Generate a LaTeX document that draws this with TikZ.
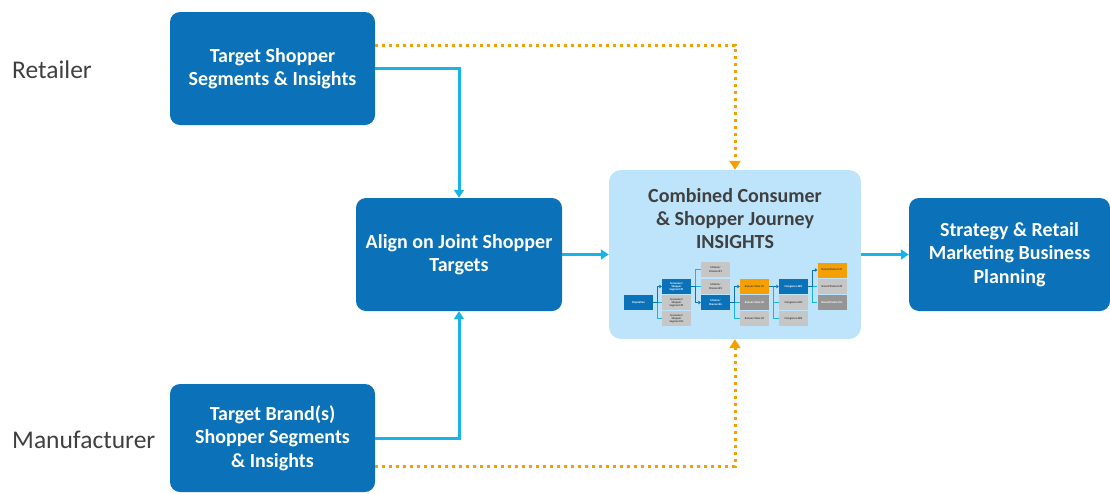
\documentclass[tikz,border=0pt]{standalone}
\usepackage{fontspec}
\setmainfont{Carlito}
\usetikzlibrary{arrows.meta}
\definecolor{dblue}{HTML}{0B72B9}
\definecolor{lblue}{HTML}{16B4E8}
\definecolor{pale}{HTML}{BDE4FA}
\definecolor{orng}{HTML}{F5A000}
\definecolor{lgrey}{HTML}{C6C6C6}
\definecolor{dgrey}{HTML}{959595}
\definecolor{txt}{HTML}{404040}
\tikzset{
  bigbox/.style={fill=dblue, rounded corners=10pt, text=white, inner sep=0pt,
    font=\fontsize{20}{23.5}\selectfont\bfseries, align=center},
  sidelabel/.style={anchor=base west, text=txt, inner sep=0pt, font=\fontsize{25.5}{28}\selectfont},
  conn/.style={draw=lblue, line width=3pt, -{Triangle[length=8pt,width=10pt]}},
  dotconn/.style={draw=orng, line width=3pt, dash pattern=on 3pt off 4pt, -{Triangle[length=9pt,width=11pt]}},
  mini/.style={minimum width=29pt, minimum height=15pt, inner sep=0pt, align=center,
    font=\fontsize{2.8}{3.2}\selectfont\bfseries},
  mblue/.style={mini, fill=dblue, text=white},
  mlg/.style={mini, fill=lgrey, text=txt},
  mdg/.style={mini, fill=dgrey, text=white},
  mor/.style={mini, fill=orng, text=txt},
  mlight/.style={draw=lblue, line width=1pt},
  mdark/.style={draw=dblue, line width=1pt, -{Triangle[length=2.5pt,width=3.5pt]}}
}
\begin{document}
\begin{tikzpicture}[x=1pt,y=-1pt]
\useasboundingbox (0,0) rectangle (1110,493);

% side labels
\node[sidelabel] (ret) at (12,78) {Retailer};
\node[sidelabel] (man) at (12,448) {Manufacturer};

% main boxes
\node[bigbox, minimum width=205pt, minimum height=113pt] (ts) at (272.5,68.5) {Target Shopper\\Segments \& Insights};
\node[bigbox, minimum width=206pt, minimum height=113pt] (align) at (459,254.5) {Align on Joint Shopper\\Targets};
\node[bigbox, minimum width=205pt, minimum height=108pt] (tb) at (272.5,438) {Target Brand(s)\\Shopper Segments\\\& Insights};
\node[fill=pale, rounded corners=12pt, minimum width=252pt, minimum height=169pt, inner sep=0pt] (comb) at (735,254.5) {};
\node[text=txt, font=\fontsize{20}{23}\selectfont\bfseries, align=center, inner sep=0pt] (ctitle) at (735,219) {Combined Consumer\\\& Shopper Journey\\INSIGHTS};
\node[bigbox, minimum width=201pt, minimum height=113pt] (strat) at (1009.5,254.5) {Strategy \& Retail\\Marketing Business\\Planning};

% connectors
\draw[conn] (ts.east) -| (align.north);
\draw[conn] (tb.east) -| (align.south);
\draw[conn] (align.east) -- (comb.west);
\draw[conn] (comb.east) -- (strat.west);
\draw[dotconn] ([yshift=23.5pt]ts.east) -| (comb.north);
\draw[dotconn] ([yshift=-28pt]tb.east) -| (comb.south);

% mini journey diagram
\node[mblue] (pop) at (638.5,302.5) {Population};
\node[mblue] (s1) at (676.5,286.5) {Consumer/\\Shopper\\Segment \#1};
\node[mlg] (s2) at (676.5,302.5) {Consumer/\\Shopper\\Segment \#2};
\node[mlg] (s3) at (676.5,318.5) {Consumer/\\Shopper\\Segment \#n};
\node[mlg] (m1) at (715.5,269.5) {Mission/\\Channel \#1};
\node[mlg] (m2) at (715.5,286.5) {Mission/\\Channel \#2};
\node[mblue] (m3) at (715.5,302.5) {Mission/\\Channel \#n};
\node[mor] (b1) at (754.5,286.5) {Banner/Store \#1};
\node[mdg] (b2) at (754.5,302.5) {Banner/Store \#2};
\node[mlg] (b3) at (754.5,318.5) {Banner/Store \#3};
\node[mblue] (c1) at (793.5,286.5) {Categories ABC};
\node[mlg] (c2) at (793.5,302.5) {Categories ACD};
\node[mlg] (c3) at (793.5,318.5) {Categories ADE};
\node[mor] (p1) at (832,270) {Brand/Product \#1};
\node[mlg] (p2) at (832,286.5) {Brand/Product \#2};
\node[mdg] (p3) at (832,302.5) {Brand/Product \#n};

\draw[mlight] (pop.east) -- (s2.west);
\draw[mlight] (pop.east) -- ++(4,0) |- (s3.west);
\draw[mdark] (pop.east) -- ++(4,0) |- (s1.west);

\draw[mlight] (s1.east) -- (m2.west);
\draw[mlight] (s1.east) -- ++(4,0) |- (m1.west);
\draw[mdark] (s1.east) -- ++(4,0) |- (m3.west);

\draw[mlight] (m3.east) -- (b2.west);
\draw[mlight] (m3.east) -- ++(4,0) |- (b3.west);
\draw[mdark] (m3.east) -- ++(4,0) |- (b1.west);

\draw[mlight] (b1.east) -- ++(4,0) |- (c2.west);
\draw[mlight] (b1.east) -- ++(4,0) |- (c3.west);
\draw[mdark] (b1.east) -- (c1.west);

\draw[mlight] (c1.east) -- (p2.west);
\draw[mlight] (c1.east) -- ++(4,0) |- (p3.west);
\draw[mdark] (c1.east) -- ++(4,0) |- (p1.west);
\end{tikzpicture}
\end{document}
